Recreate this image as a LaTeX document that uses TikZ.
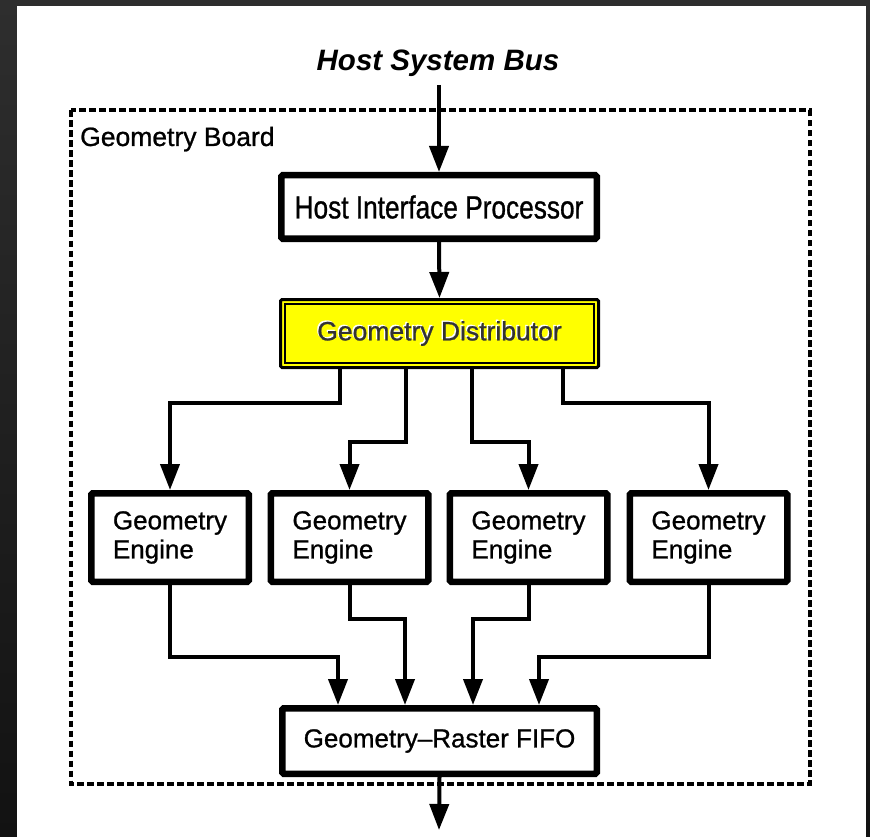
\documentclass[tikz,border=0pt]{standalone}
\usepackage{fontspec}
\setmainfont{Liberation Sans}[FakeBold=0.9]
\newfontfamily\narrowsf[FakeStretch=0.82, FakeBold=0.9]{Liberation Sans}
\newfontfamily\bussf{Liberation Sans}
\usetikzlibrary{arrows.meta}

\definecolor{frame}{HTML}{2E2E2E}
\definecolor{framedark}{HTML}{121212}
\definecolor{distyellow}{HTML}{FFFF00}
\newcommand{\txtsize}[2]{\fontsize{#1}{#2}\selectfont}

\tikzset{
	unit/.style={draw, fill=white, line width=6.5pt, rounded corners=1.5pt, inner sep=0pt},
	link/.style={line width=4pt, -{Triangle[length=26pt,width=19pt]}},
	board/.style={line width=4pt, dash pattern=on 6.5pt off 3.5pt},
}

\begin{document}
\begin{tikzpicture}[x=1pt, y=-1pt]
	\useasboundingbox (0,0) rectangle (870,837);
	% backdrop
	\shade[top color=frame, bottom color=framedark] (0,0) rectangle (870,837);
	\fill[white] (17,6) rectangle (866,837);

	% board outline
	\draw[board] (70.5,110.5) rectangle (809.5,784);
	\node[anchor=base west, inner sep=0pt, font=\txtsize{26.5}{30}] (boardname) at (80,146) {Geometry Board};

	\node[anchor=base, inner sep=0pt, font=\bussf\bfseries\itshape\txtsize{29.5}{32}] (hsb) at (438,71) {Host System Bus};
	\coordinate (busend) at (439,85);

	\node[unit, minimum width=315.5pt, minimum height=63.5pt, font=\narrowsf\txtsize{32}{34}] (host) at (439,207) {Host Interface Processor};

	% distributor, double frame and raised lettering
	\node[draw, fill=distyellow, line width=3pt, rounded corners=1.5pt, minimum width=318pt, minimum height=68pt] (dist) at (439.5,333.5) {};
	\draw[line width=1.2pt] ([shift={(6,6)}]dist.north west) rectangle ([shift={(-6,-6)}]dist.south east);
	\node[text=white, font=\txtsize{26.5}{30}] (distglow) at ([shift={(-1.3,-1.3)}]dist.center) {Geometry Distributor};
	\node[text=black!80, font=\txtsize{26.5}{30}] (distname) at (dist.center) {Geometry Distributor};

	% engines
	\foreach \n/\x in {1/170, 2/349.5, 3/528.5, 4/708.5} {
		\node[unit, minimum width=157.5pt, minimum height=88.5pt, align=left, font=\txtsize{26}{29}] (eng\n) at (\x,537.5) {Geometry\\Engine};
	}

	\node[unit, minimum width=314.5pt, minimum height=65.5pt, font=\txtsize{26}{30}] (fifo) at (439.5,741) {Geometry--Raster FIFO};
	\coordinate (fifoout) at (439,830);

	% wiring
	\draw[link] (busend) -- (host.north);
	\draw[link] (host.south) -- (dist.north);
	\foreach \n/\x/\y in {1/340/403, 2/406/442, 3/472/442, 4/563/403} {
		\draw[link] (\x,0 |- dist.south) -- (\x,\y) -| (eng\n.north);
	}
	\foreach \n/\x/\y in {1/338/657, 2/405/619, 3/473/619, 4/539/657} {
		\draw[link] (eng\n.south) |- (\x,\y) -- (\x,0 |- fifo.north);
	}
	\draw[link] (fifo.south) -- (fifoout);
\end{tikzpicture}
\end{document}
